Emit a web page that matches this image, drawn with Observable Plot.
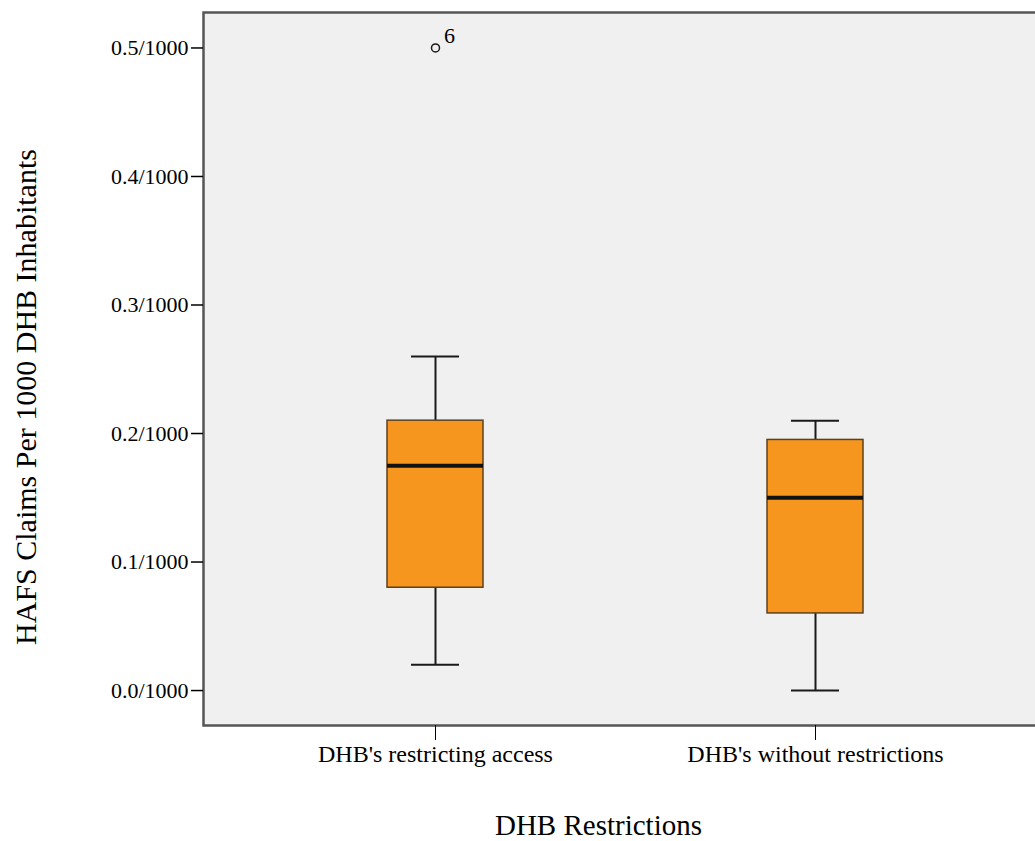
<!DOCTYPE html>
<html>
<head>
<meta charset="utf-8">
<script src="https://cdn.jsdelivr.net/npm/d3@7"></script>
<script src="https://cdn.jsdelivr.net/npm/@observablehq/plot@0.6"></script>
<style>
  html, body { margin: 0; padding: 0; background: #ffffff; overflow: hidden; }
  #chart svg { max-width: none !important; }
</style>
</head>
<body>
<div id="chart"></div>
<script>
// Data
const groups = ["DHB's restricting access", "DHB's without restrictions"];
const lowerWhisker = [0.02, 0.0];
const q1 = [0.08, 0.06];
const median = [0.175, 0.15];
const q3 = [0.21, 0.195];
const upperWhisker = [0.26, 0.21];
const outlierGroups = ["DHB's restricting access"];
const outlierValues = [0.5];
const outlierLabels = ["6"];
const yTicks = [0.0, 0.1, 0.2, 0.3, 0.4, 0.5];
const yTitle = "HAFS Claims Per 1000 DHB Inhabitants";
const xTitle = "DHB Restrictions";

const table = groups.map((g, i) => ({
  group: g, lo: lowerWhisker[i], q1: q1[i], med: median[i], q3: q3[i], hi: upperWhisker[i]
}));
const outliers = outlierGroups.map((g, i) => ({group: g, value: outlierValues[i], label: outlierLabels[i]}));

const chart = Plot.plot({
  width: 1047,
  height: 841,
  marginLeft: 203,
  marginRight: 0,
  marginTop: 12,
  marginBottom: 116,
  style: {fontFamily: "'Liberation Serif', 'Times New Roman', serif", color: "#000", background: "transparent", maxWidth: "none"},
  x: {domain: groups, paddingInner: 0.747, paddingOuter: 0.484, label: null},
  y: {domain: [-0.0272, 0.5276], label: null},
  marks: [
    Plot.frame({fill: "#f0f0f0", stroke: "#555", strokeWidth: 2.5}),
    Plot.ruleX(table, {x: "group", y1: "lo", y2: "hi", stroke: "#1a1a1a", strokeWidth: 2}),
    Plot.tickY(table, {x: "group", y: "lo", insetLeft: 24, insetRight: 24, stroke: "#1a1a1a", strokeWidth: 2}),
    Plot.tickY(table, {x: "group", y: "hi", insetLeft: 24, insetRight: 24, stroke: "#1a1a1a", strokeWidth: 2}),
    Plot.barY(table, {x: "group", y1: "q1", y2: "q3", fill: "#f7961e", stroke: "#5e4120", strokeWidth: 1.5}),
    Plot.tickY(table, {x: "group", y: "med", stroke: "#111", strokeWidth: 4}),
    Plot.dot(outliers, {x: "group", y: "value", r: 4, stroke: "#1a1a1a", fill: "none", strokeWidth: 1.5}),
    Plot.text(outliers, {x: "group", y: "value", text: "label", dx: 14, dy: -12, fontSize: 22, fill: "#000"}),
    Plot.axisY({ticks: yTicks, tickFormat: d => d.toFixed(1) + "/1000", tickSize: 12, tickPadding: 3, fontSize: 22, strokeWidth: 1.5, label: null}),
    Plot.axisX({tickSize: 15, tickPadding: 4, fontSize: 24, label: null}),
    Plot.text([yTitle], {frameAnchor: "left", textAnchor: "middle", dx: -177, dy: 28, rotate: -90, fontSize: 30, fill: "#000"}),
    Plot.text([xTitle], {frameAnchor: "bottom", dx: -27, dy: 109, fontSize: 29, fill: "#000"})
  ]
});
document.getElementById("chart").appendChild(chart);
</script>
</body>
</html>
